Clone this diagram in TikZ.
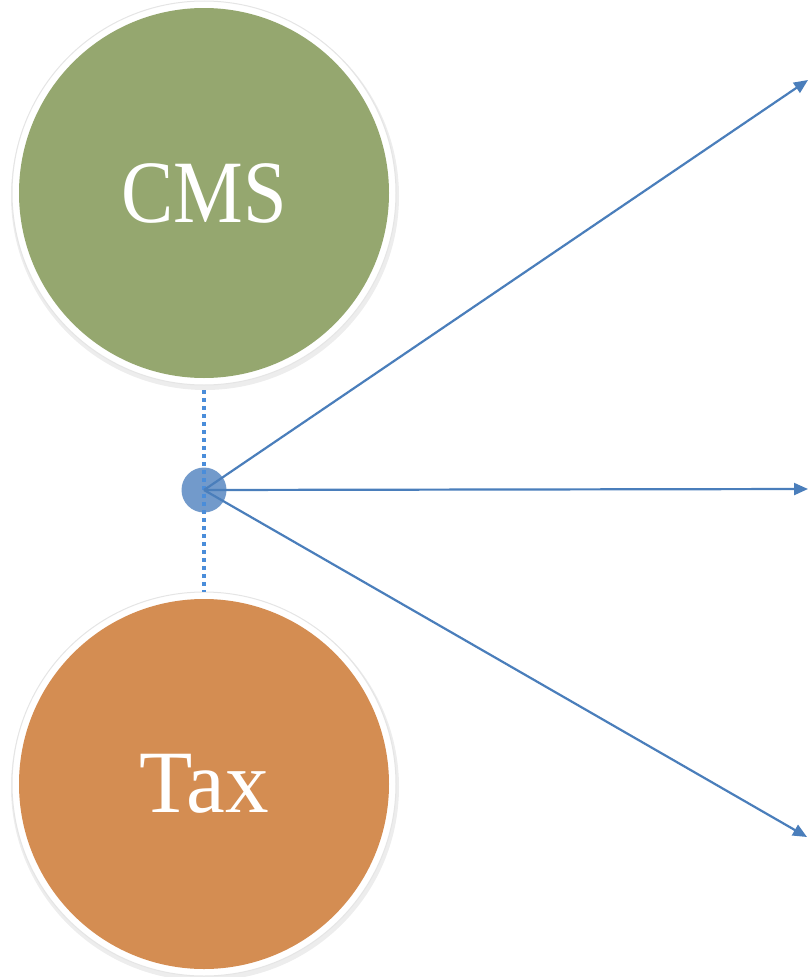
\documentclass[tikz,border=0pt]{standalone}
\usepackage{fontspec}
\setmainfont{Liberation Serif}
\usetikzlibrary{arrows.meta}
\definecolor{cmsgreen}{HTML}{95A76F}
\definecolor{taxorange}{HTML}{D48D52}
\definecolor{hubblue}{HTML}{729ACB}
\definecolor{arrowblue}{HTML}{4A7EBB}
\definecolor{dotblue}{HTML}{4A8DDA}
\tikzset{
  bigcircle/.style={circle, minimum size=370pt, inner sep=0pt, text=white,
    font=\fontsize{89}{95}\selectfont},
  ring/.style={fill=white, draw=black!10, line width=1pt},
  conn/.style={draw=arrowblue, line width=2.2pt, -{Triangle[length=14pt,width=12pt]}},
  dotted link/.style={draw=dotblue, line width=4pt, dash pattern=on 4pt off 4pt}
}
\begin{document}
\begin{tikzpicture}[x=1pt,y=-1pt]
\useasboundingbox (0,0) rectangle (807,977);
% CMS
\fill[black!7] (205,196) circle (194);
\path[ring] (204,193) circle (192);
\node[bigcircle, fill=cmsgreen] (cms) at (204,193) {\raisebox{-4pt}{\scalebox{0.88}[1]{CMS}}};
% Tax
\fill[black!7] (205,787) circle (194);
\path[ring] (204,784) circle (192);
\node[bigcircle, fill=taxorange] (tax) at (204,784) {\raisebox{-3pt}{\scalebox{0.98}[1]{Tax}}};
% hub
\node[circle, fill=hubblue, minimum size=45pt, inner sep=0pt] (hub) at (204,490) {};
\coordinate (e1) at (808,80);
\coordinate (e2) at (808,489);
\coordinate (e3) at (807,837);
\draw[dotted link] ([yshift=-12]cms.south) -- ([yshift=7]tax.north);
\draw[conn] (hub.center) -- (e1);
\draw[conn] (hub.center) -- (e2);
\draw[conn] (hub.center) -- (e3);
\end{tikzpicture}
\end{document}
